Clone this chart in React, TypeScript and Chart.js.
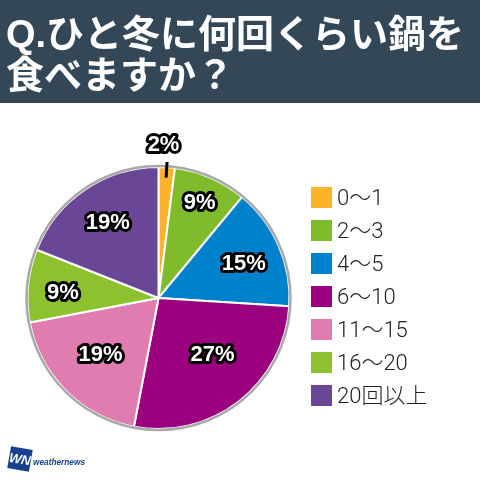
import React, { useEffect, useRef } from 'react';
import { Chart, Plugin, registerables } from 'chart.js';

Chart.register(...registerables);

const categories = ['0～1', '2～3', '4～5', '6～10', '11～15', '16～20', '20回以上'];
const shares = [2, 9, 15, 27, 19, 9, 19];
const sliceColors = ['#FBB32B', '#7FBB2A', '#0081CC', '#9B007F', '#E17CB0', '#8DC22E', '#6A4696'];
// how far out each percent label sits, as a fraction of the radius
const labelRadius = [1.17, 0.79, 0.7, 0.6, 0.62, 0.73, 0.69];
// small nudge along the angle so labels land where the original put them
const labelAngleShift = [-0.03, 0, 0.03, -0.1, 0.01, -0.04, 0];
const titleLines = ['Q.ひと冬に何回くらい鍋を', '食べますか？'];

const JP_FONT = '"Noto Sans CJK JP", "Noto Sans", sans-serif';

const backdrop: Plugin<'pie'> = {
  id: 'backdrop',
  beforeDraw(chart) {
    const { ctx, width } = chart;
    ctx.save();
    ctx.fillStyle = '#ffffff';
    ctx.fillRect(0, 0, width, chart.height);
    ctx.fillStyle = '#344757';
    ctx.fillRect(0, 0, width, 103);
    ctx.fillStyle = '#ffffff';
    ctx.font = `bold 38px "Liberation Sans", ${JP_FONT}`;
    ctx.textBaseline = 'alphabetic';
    ctx.fillText(titleLines[0], 6, 47);
    ctx.fillText(titleLines[1], 6, 88);
    ctx.restore();
  },
};

const sliceLabels: Plugin<'pie'> = {
  id: 'sliceLabels',
  afterDatasetsDraw(chart) {
    const { ctx } = chart;
    const arcs = chart.getDatasetMeta(0).data as any[];
    ctx.save();

    // gray rim around the pie, over the slices' white outer border
    ctx.strokeStyle = '#a8a8a8';
    ctx.lineWidth = 2.5;
    ctx.beginPath();
    ctx.arc(arcs[0].x, arcs[0].y, arcs[0].outerRadius + 1, 0, Math.PI * 2);
    ctx.stroke();

    // leader line for the small slice
    const first = arcs[0];
    const mid = (first.startAngle + first.endAngle) / 2;
    ctx.strokeStyle = '#000000';
    ctx.lineWidth = 3;
    ctx.beginPath();
    ctx.moveTo(first.x + Math.cos(mid) * (first.outerRadius * 0.92), first.y + Math.sin(mid) * (first.outerRadius * 0.92));
    ctx.lineTo(first.x + Math.cos(mid) * (first.outerRadius * 1.04), first.y + Math.sin(mid) * (first.outerRadius * 1.04));
    ctx.stroke();

    ctx.font = 'bold 22px "Liberation Sans", Arimo, sans-serif';
    ctx.textAlign = 'center';
    ctx.textBaseline = 'middle';
    ctx.lineJoin = 'round';
    arcs.forEach((arc, i) => {
      const angle = (arc.startAngle + arc.endAngle) / 2 + labelAngleShift[i];
      const r = arc.outerRadius * labelRadius[i];
      const x = arc.x + Math.cos(angle) * r;
      const y = arc.y + Math.sin(angle) * r;
      const text = `${shares[i]}%`;
      ctx.strokeStyle = '#000000';
      ctx.lineWidth = 6;
      ctx.strokeText(text, x, y);
      ctx.fillStyle = '#ffffff';
      ctx.fillText(text, x, y);
    });
    ctx.restore();
  },
};

const sideLegend: Plugin<'pie'> = {
  id: 'sideLegend',
  afterDraw(chart) {
    const { ctx } = chart;
    ctx.save();
    ctx.font = `300 22px Roboto, ${JP_FONT}`;
    ctx.textBaseline = 'middle';
    categories.forEach((name, i) => {
      const top = 187 + i * 33;
      ctx.fillStyle = sliceColors[i];
      ctx.fillRect(311, top, 21, 21);
      ctx.fillStyle = '#222222';
      ctx.fillText(name, 337, top + 12);
    });

    // weathernews logo
    ctx.save();
    ctx.translate(20, 459);
    ctx.rotate((10 * Math.PI) / 180);
    ctx.fillStyle = '#17408F';
    ctx.fillRect(-11, -11, 22, 22);
    ctx.fillStyle = '#ffffff';
    ctx.font = 'italic bold 13px "Liberation Sans", sans-serif';
    ctx.textAlign = 'center';
    ctx.textBaseline = 'middle';
    ctx.fillText('WN', 0, 1);
    ctx.restore();
    ctx.fillStyle = '#17408F';
    ctx.font = 'italic bold 9px "Liberation Sans", sans-serif';
    ctx.textBaseline = 'alphabetic';
    ctx.fillText('weathernews', 33, 465, 52);
    ctx.restore();
  },
};

export default function App() {
  const canvasRef = useRef<HTMLCanvasElement | null>(null);

  useEffect(() => {
    if (!canvasRef.current) return;
    document.body.style.margin = '0';

    const chart = new Chart(canvasRef.current, {
      type: 'pie',
      data: {
        labels: categories,
        datasets: [
          {
            data: shares,
            backgroundColor: sliceColors,
            borderColor: '#ffffff',
            borderWidth: 2,
          },
        ],
      },
      options: {
        responsive: false,
        animation: false,
        layout: { padding: { left: 26, right: 189, top: 166, bottom: 50 } },
        plugins: {
          legend: { display: false },
          tooltip: { enabled: false },
        },
      },
      plugins: [backdrop, sliceLabels, sideLegend],
    });

    return () => {
      chart.destroy();
    };
  }, []);

  return <canvas ref={canvasRef} width={480} height={480} style={{ display: 'block' }} />;
}
